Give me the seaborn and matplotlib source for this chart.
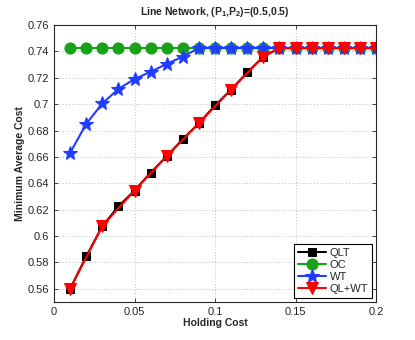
import matplotlib
matplotlib.use('Agg')
import matplotlib.pyplot as plt
import seaborn as sns
import numpy as np
import pandas as pd

# holding cost grid
x_all = [0.01, 0.02, 0.03, 0.04, 0.05, 0.06, 0.07, 0.08, 0.09, 0.10,
         0.11, 0.12, 0.13, 0.14, 0.15, 0.16, 0.17, 0.18, 0.19, 0.20]

qlt = [0.560, 0.5845, 0.6075, 0.6225, 0.6345, 0.648, 0.6605, 0.6735, 0.6855, 0.699,
       0.711, 0.724, 0.736, 0.7425, 0.7425, 0.7425, 0.7425, 0.7425, 0.7425, 0.7425]
oc = [0.7425] * 20
wt = [0.663, 0.685, 0.7005, 0.7115, 0.719, 0.7245, 0.7305, 0.736, 0.7425, 0.7425,
      0.7425, 0.7425, 0.7425, 0.7425, 0.7425, 0.7425, 0.7425, 0.7425, 0.7425, 0.7425]

x_qlwt = [0.01, 0.03, 0.05, 0.07, 0.09, 0.11, 0.13, 0.14, 0.15, 0.16,
          0.17, 0.18, 0.19, 0.20]
qlwt = [0.560, 0.6075, 0.6345, 0.6605, 0.6855, 0.711, 0.736, 0.7425, 0.7425, 0.7425,
        0.7425, 0.7425, 0.7425, 0.7425]

sns.set_style('ticks')
plt.rcParams['font.family'] = ['Liberation Sans', 'DejaVu Sans']
plt.rcParams['mathtext.fontset'] = 'custom'
plt.rcParams['mathtext.rm'] = 'Liberation Sans:bold'
plt.rcParams['mathtext.it'] = 'Liberation Sans:bold'
plt.rcParams['mathtext.bf'] = 'Liberation Sans:bold'

fig = plt.figure(figsize=(4.15, 3.4), dpi=100)
ax = fig.add_axes([54 / 415, 1 - 302 / 340, (376 - 54) / 415, (302 - 25) / 340])

series = [
    ('QLT', x_all, qlt, 'black', 's', 6),
    ('OC', x_all, oc, '#17a317', 'o', 8),
    ('WT', x_all, wt, '#1f3cff', '*', 10),
    ('QL+WT', x_qlwt, qlwt, 'red', 'v', 8.5),
]
for name, xs, ys, c, m, ms in series:
    df = pd.DataFrame({'x': xs, 'y': ys})
    sns.lineplot(data=df, x='x', y='y', ax=ax, color=c, marker=m, markersize=ms,
                 markeredgecolor=c, linewidth=1.5, label=name)

ax.set_xlim(0, 0.2)
ax.set_ylim(0.55, 0.76)
ax.set_xticks([0, 0.05, 0.1, 0.15, 0.2])
ax.set_xticklabels(['0', '0.05', '0.1', '0.15', '0.2'])
yt = [0.56, 0.58, 0.60, 0.62, 0.64, 0.66, 0.68, 0.70, 0.72, 0.74, 0.76]
ax.set_yticks(yt)
ax.set_yticklabels(['%g' % v for v in yt])
ax.tick_params(direction='in', top=True, right=True, labelsize=8, length=3, width=0.6)
for s in ax.spines.values():
    s.set_linewidth(0.8)
ax.grid(True, linestyle=(0, (1, 2.5)), color='#a8a8a8', linewidth=0.6)

ax.set_xlabel('Holding Cost', fontsize=7.5, fontweight='bold', labelpad=1)
ax.set_ylabel('Minimum Average Cost', fontsize=7.5, fontweight='bold', labelpad=2)
ax.set_title('Line Network, (P$_1$,P$_2$)=(0.5,0.5)', fontsize=7.5, fontweight='bold', pad=7)

leg = ax.legend(loc='lower right', fontsize=8, fancybox=False, edgecolor='black',
                framealpha=1, borderaxespad=0.4, handlelength=2.6, labelspacing=0.2,
                borderpad=0.3, handletextpad=0.3)
leg.get_frame().set_linewidth(0.8)

fig.savefig('out.png', dpi=100)
